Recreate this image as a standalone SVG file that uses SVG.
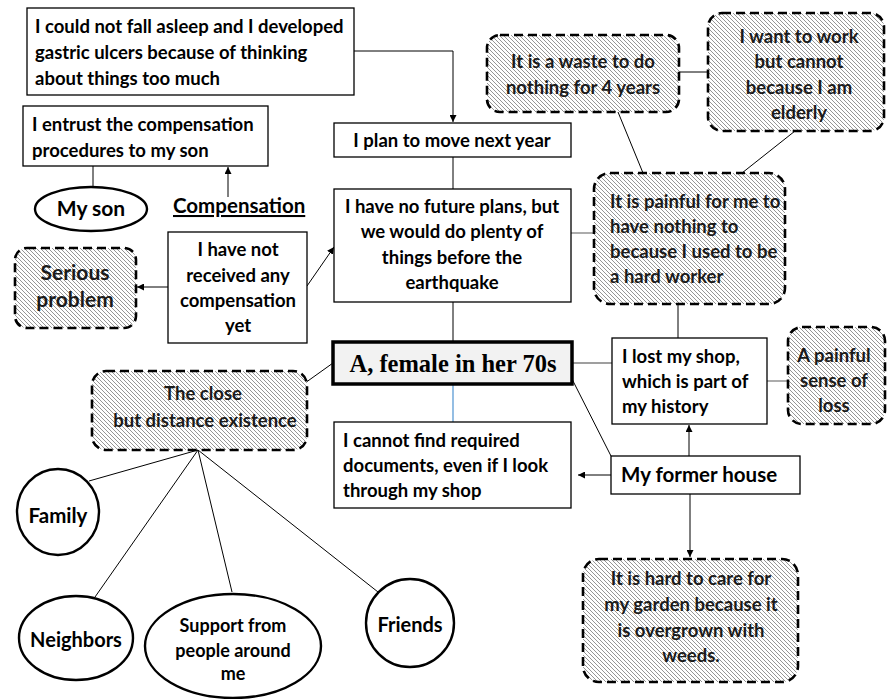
<svg xmlns="http://www.w3.org/2000/svg" width="887" height="699" viewBox="0 0 887 699">
<defs>
<pattern id="hatch" patternUnits="userSpaceOnUse" width="4" height="4">
<rect width="4" height="4" fill="#fff"/>
<path d="M-1,-1 L5,5 M-1,3 L1,5 M3,-1 L5,1" stroke="#8a8a8a" stroke-width="0.9"/>
</pattern>
<marker id="arr" viewBox="0 0 10 10" refX="10" refY="5" markerWidth="7" markerHeight="7" markerUnits="userSpaceOnUse" orient="auto">
<path d="M0,0 L10,5 L0,10 z" fill="#000"/>
</marker>
<style>
.box{fill:#fff;stroke:#000;stroke-width:1.3}
.hb{fill:url(#hatch);stroke:#000;stroke-width:2.6;stroke-dasharray:9 5}
.el{fill:#fff;stroke:#000;stroke-width:2.4}
.t{font-family:Lato,"Liberation Sans",sans-serif;font-weight:bold;font-size:18.5px;fill:#000}
.tc{text-anchor:middle}
.th{fill:#1a1a1a}
.ln{stroke:#000;stroke-width:1;fill:none}
.lg{stroke:#7f7f7f;stroke-width:1.3;fill:none}
.lb{stroke:#5b9bd5;stroke-width:1.3;fill:none}
</style>
</defs>
<g id="connectors">
<polyline class="ln" points="354,51 453,51 453,122" marker-end="url(#arr)"/>
<line class="ln" x1="93" y1="166" x2="93" y2="187"/>
<line class="ln" x1="228" y1="197" x2="228" y2="167" marker-end="url(#arr)"/>
<line class="ln" x1="172" y1="287" x2="137" y2="287" marker-end="url(#arr)"/>
<line class="ln" x1="307" y1="286" x2="334" y2="247" marker-end="url(#arr)"/>
<line class="ln" x1="453" y1="157" x2="453" y2="189"/>
<line class="ln" x1="453" y1="302" x2="453" y2="342"/>
<line class="lb" x1="453" y1="384" x2="453" y2="422"/>
<line class="ln" x1="333" y1="363" x2="305" y2="383"/>
<line class="lg" x1="572" y1="363" x2="612" y2="363"/>
<line class="ln" x1="572" y1="379" x2="611" y2="456"/>
<line class="lg" x1="571" y1="233" x2="594" y2="233"/>
<line class="ln" x1="679" y1="72" x2="708" y2="72"/>
<line class="ln" x1="618" y1="112" x2="643" y2="173"/>
<line class="ln" x1="795" y1="131" x2="742" y2="173"/>
<line class="ln" x1="678" y1="304" x2="678" y2="338"/>
<line class="lg" x1="767" y1="381" x2="788" y2="381"/>
<line class="ln" x1="689" y1="456" x2="689" y2="425" marker-end="url(#arr)"/>
<line class="ln" x1="611" y1="475" x2="578" y2="475" marker-end="url(#arr)"/>
<line class="ln" x1="690" y1="494" x2="690" y2="557" marker-end="url(#arr)"/>
<line class="ln" x1="198" y1="450" x2="89" y2="481"/>
<line class="ln" x1="198" y1="450" x2="95" y2="597"/>
<line class="ln" x1="198" y1="450" x2="232" y2="592"/>
<line class="ln" x1="198" y1="450" x2="378" y2="592"/>
</g>
<g id="n-sleep">
<rect class="box" x="27" y="8" width="327" height="87"/>
<text class="t" x="35" y="33">I could not fall asleep and I developed</text>
<text class="t" x="35" y="59">gastric ulcers because of thinking</text>
<text class="t" x="35" y="85">about things too much</text>
</g>
<g id="n-entrust">
<rect class="box" x="23" y="106" width="245" height="60"/>
<text class="t" x="32" y="131">I entrust the compensation</text>
<text class="t" x="32" y="157">procedures to my son</text>
</g>
<g id="n-son">
<ellipse class="el" cx="91" cy="209" rx="56" ry="22"/>
<text class="t tc" x="91" y="216" style="font-size:21px">My son</text>
</g>
<g id="n-compensation">
<text class="t" x="173" y="213" style="font-size:20.5px;text-decoration:underline">Compensation</text>
</g>
<g id="n-notreceived">
<rect class="box" x="168" y="232" width="139" height="111"/>
<text class="t tc" x="238" y="256">I have not</text>
<text class="t tc" x="238" y="282">received any</text>
<text class="t tc" x="238" y="307">compensation</text>
<text class="t tc" x="238" y="332">yet</text>
</g>
<g id="n-serious">
<rect class="hb" x="15" y="248" width="121" height="80" rx="12"/>
<text class="t tc th" x="75" y="280" style="font-size:21px">Serious</text>
<text class="t tc th" x="75" y="307" style="font-size:21px">problem</text>
</g>
<g id="n-plan">
<rect class="box" x="334" y="123" width="237" height="34"/>
<text class="t tc" x="452" y="147">I plan to move next year</text>
</g>
<g id="n-nofuture">
<rect class="box" x="334" y="189" width="237" height="113"/>
<text class="t tc" x="452" y="213">I have no future plans, but</text>
<text class="t tc" x="452" y="238">we would do plenty of</text>
<text class="t tc" x="452" y="264">things before the</text>
<text class="t tc" x="452" y="289">earthquake</text>
</g>
<g id="n-waste">
<rect class="hb" x="487" y="35" width="192" height="77" rx="13"/>
<text class="t tc th" x="583" y="68">It is a waste to do</text>
<text class="t tc th" x="583" y="94">nothing for 4 years</text>
</g>
<g id="n-work">
<rect class="hb" x="708" y="13" width="176" height="118" rx="14"/>
<text class="t tc th" x="799" y="43">I want to work</text>
<text class="t tc th" x="799" y="68">but cannot</text>
<text class="t tc th" x="799" y="94">because I am</text>
<text class="t tc th" x="799" y="119">elderly</text>
</g>
<g id="n-painful">
<rect class="hb" x="594" y="173" width="191" height="131" rx="16"/>
<text class="t th" x="610" y="208">It is painful for me to</text>
<text class="t th" x="610" y="233">have nothing to</text>
<text class="t th" x="610" y="258">because I used to be</text>
<text class="t th" x="610" y="283">a hard worker</text>
</g>
<g id="n-a">
<rect x="333" y="342" width="239" height="42" fill="#f2f2f2" stroke="#000" stroke-width="3.5"/>
<text x="453" y="372" text-anchor="middle" style="font-family:'Liberation Serif','Times New Roman',serif;font-weight:bold;font-size:24.5px">A, female in her 70s</text>
</g>
<g id="n-cannot">
<rect class="box" x="334" y="422" width="237" height="86"/>
<text class="t" x="343" y="447">I cannot find required</text>
<text class="t" x="343" y="472">documents, even if I look</text>
<text class="t" x="343" y="497">through my shop</text>
</g>
<g id="n-lostshop">
<rect class="box" x="612" y="338" width="155" height="86"/>
<text class="t" x="622" y="363">I lost my shop,</text>
<text class="t" x="622" y="388">which is part of</text>
<text class="t" x="622" y="413">my history</text>
</g>
<g id="n-loss">
<rect class="hb" x="788" y="327" width="97" height="97" rx="14"/>
<text class="t tc th" x="834" y="362">A painful</text>
<text class="t tc th" x="834" y="387">sense of</text>
<text class="t tc th" x="834" y="412">loss</text>
</g>
<g id="n-house">
<rect class="box" x="611" y="456" width="189" height="38"/>
<text class="t" x="621" y="482" style="font-size:20.5px">My former house</text>
</g>
<g id="n-garden">
<rect class="hb" x="583" y="559" width="215" height="123" rx="16"/>
<text class="t tc th" x="691" y="585">It is hard to care for</text>
<text class="t tc th" x="691" y="611">my garden because it</text>
<text class="t tc th" x="691" y="637">is overgrown with</text>
<text class="t tc th" x="691" y="662">weeds.</text>
</g>
<g id="n-close">
<rect class="hb" x="92" y="371" width="215" height="79" rx="14"/>
<text class="t tc th" x="203" y="400">The close</text>
<text class="t tc th" x="205" y="427">but distance existence</text>
</g>
<g id="n-family">
<ellipse class="el" cx="58" cy="512" rx="41" ry="43"/>
<text class="t tc" x="58" y="523" style="font-size:20.5px">Family</text>
</g>
<g id="n-neighbors">
<ellipse class="el" cx="76" cy="638" rx="57" ry="42"/>
<text class="t tc" x="76" y="647" style="font-size:20px">Neighbors</text>
</g>
<g id="n-support">
<ellipse class="el" cx="233" cy="646" rx="88" ry="52"/>
<text class="t tc" x="233" y="632" style="font-size:18px">Support from</text>
<text class="t tc" x="233" y="657" style="font-size:18px">people around</text>
<text class="t tc" x="233" y="680" style="font-size:18px">me</text>
</g>
<g id="n-friends">
<ellipse class="el" cx="410" cy="623" rx="44" ry="44"/>
<text class="t tc" x="410" y="632" style="font-size:20px">Friends</text>
</g>
</svg>
